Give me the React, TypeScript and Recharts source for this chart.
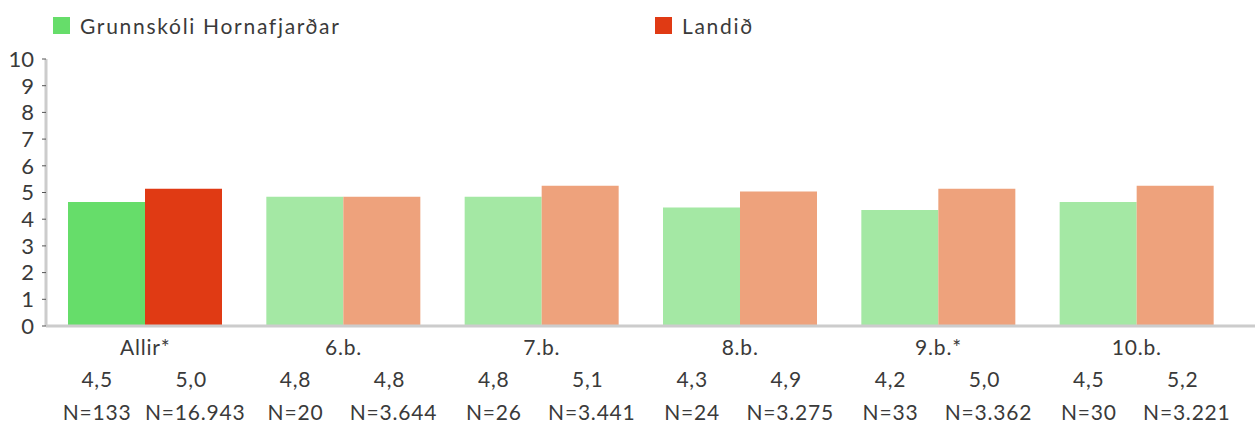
import React from 'react'
import { BarChart, Bar, XAxis, YAxis, Legend, Cell } from 'recharts'

const categories = ['Allir*', '6.b.', '7.b.', '8.b.', '9.b.*', '10.b.']
const schoolValues = [4.64, 4.84, 4.84, 4.44, 4.34, 4.64]
const nationalValues = [5.14, 4.84, 5.25, 5.04, 5.14, 5.25]
const schoolLabels = ['4,5', '4,8', '4,8', '4,3', '4,2', '4,5']
const nationalLabels = ['5,0', '4,8', '5,1', '4,9', '5,0', '5,2']
const schoolN = ['N=133', 'N=20', 'N=26', 'N=24', 'N=33', 'N=30']
const nationalN = ['N=16.943', 'N=3.644', 'N=3.441', 'N=3.275', 'N=3.362', 'N=3.221']
const yTicks = [0, 1, 2, 3, 4, 5, 6, 7, 8, 9, 10]

const data = categories.map((name, i) => ({
  name,
  school: schoolValues[i],
  national: nationalValues[i],
}))

const FONT = 'Lato, sans-serif'
const TEXT = '#3a3a3a'

function CategoryTick(props: any) {
  const { x, y, payload } = props
  const i = payload.index
  return (
    <g fontFamily={FONT} fontSize={21} fill={TEXT} textAnchor='middle' letterSpacing={0.8}>
      <text x={x} y={y + 29}>{payload.value}</text>
      <text x={x - 48} y={y + 61}>{schoolLabels[i]}</text>
      <text x={x + 46} y={y + 61}>{nationalLabels[i]}</text>
      <text x={x - 48} y={y + 94}>{schoolN[i]}</text>
      <text x={x + 50} y={y + 94}>{nationalN[i]}</text>
    </g>
  )
}

function LegendBox() {
  const item = (color: string, label: string, left: number) => (
    <div style={{ position: 'absolute', left, top: 0, display: 'flex', alignItems: 'center' }}>
      <span style={{ width: 17, height: 17, background: color, display: 'inline-block', marginRight: 10 }} />
      <span style={{ fontFamily: FONT, fontSize: 21, color: TEXT, letterSpacing: 1.7 }}>{label}</span>
    </div>
  )
  return (
    <div style={{ position: 'relative', width: 1255, height: 30 }}>
      {item('#66DD6A', 'Grunnskóli Hornafjarðar', 53)}
      {item('#E03A14', 'Landið', 655)}
    </div>
  )
}

export default function App() {
  return (
    <div style={{ position: 'absolute', left: 0, top: 0, background: '#fff' }}>
      <BarChart
        width={1255}
        height={426}
        data={data}
        margin={{ top: 59, right: 0, bottom: 0, left: 0 }}
        barGap={0}
        barCategoryGap={22}
      >
        <Legend
          layout='horizontal'
          verticalAlign='middle'
          align='center'
          wrapperStyle={{ top: 13, left: 0, width: 1255 }}
          content={() => <LegendBox />}
        />
        <XAxis
          dataKey='name'
          height={100}
          interval={0}
          padding={{ left: 0, right: 19 }}
          axisLine={{ stroke: '#cccccc', strokeWidth: 3 }}
          tickLine={false}
          tickSize={0}
          tickMargin={0}
          tick={<CategoryTick />}
        />
        <YAxis
          width={46}
          domain={[0, 10]}
          ticks={yTicks}
          interval={0}
          axisLine={{ stroke: '#cccccc', strokeWidth: 3 }}
          tickLine={{ stroke: '#555' }}
          tickSize={4}
          tickMargin={8}
          tick={{ fontFamily: FONT, fontSize: 22, fill: TEXT }}
        />
        <Bar dataKey='school' name='Grunnskóli Hornafjarðar' isAnimationActive={false}>
          {data.map((_, i) => (
            <Cell key={i} fill={i === 0 ? '#66DD6A' : '#A4E8A4'} />
          ))}
        </Bar>
        <Bar dataKey='national' name='Landið' isAnimationActive={false}>
          {data.map((_, i) => (
            <Cell key={i} fill={i === 0 ? '#E03A14' : '#EEA27C'} />
          ))}
        </Bar>
      </BarChart>
    </div>
  )
}
